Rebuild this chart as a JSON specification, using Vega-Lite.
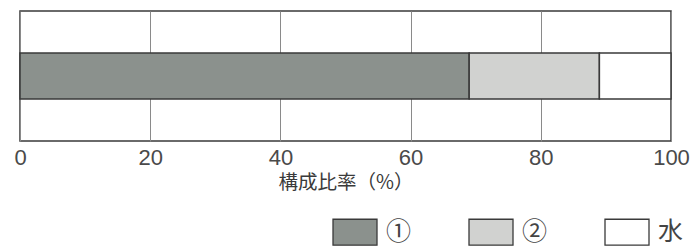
{
  "$schema": "https://vega.github.io/schema/vega-lite/v6.json",
  "width": 651,
  "height": 130,
  "autosize": "none",
  "padding": {"left": 20, "top": 11, "right": 24, "bottom": 107},
  "background": "#ffffff",
  "config": {
    "view": {"stroke": "#3a3a3a", "strokeWidth": 1.5},
    "font": "Noto Sans CJK JP"
  },
  "data": {
    "values": [
      {"cat": "a", "comp": "①", "value": 69, "order": 1},
      {"cat": "a", "comp": "②", "value": 20, "order": 2},
      {"cat": "a", "comp": "水", "value": 11, "order": 3}
    ]
  },
  "mark": {"type": "bar", "stroke": "#3a3a3a", "strokeWidth": 1.5, "size": 46, "opacity": 1},
  "encoding": {
    "y": {"field": "cat", "type": "nominal", "axis": null},
    "x": {
      "field": "value",
      "type": "quantitative",
      "stack": "zero",
      "scale": {"domain": [0, 100], "nice": false},
      "axis": {
        "values": [0, 20, 40, 60, 80, 100],
        "title": "構成比率（%）",
        "titleFont": "Noto Sans CJK JP",
        "titleFontSize": 19.5,
        "titleFontWeight": "normal",
        "titleColor": "#3a3a3a",
        "titlePadding": 5,
        "labelFont": "Liberation Sans",
        "labelFontSize": 22,
        "labelColor": "#4a4a4a",
        "labelPadding": 6,
        "labelFlush": false,
        "ticks": false,
        "domain": false,
        "grid": true,
        "gridColor": "#8a8a8a",
        "gridWidth": 1
      }
    },
    "order": {"field": "order", "type": "quantitative"},
    "color": {
      "field": "comp",
      "type": "nominal",
      "sort": ["①", "②", "水"],
      "scale": {"domain": ["①", "②", "水"], "range": ["#8b918d", "#d1d2d0", "#ffffff"]},
      "legend": {
        "title": null,
        "orient": "none",
        "direction": "horizontal",
        "legendX": 312,
        "legendY": 198,
        "padding": 0,
        "symbolType": "M-1,-0.59H1V0.59H-1Z",
        "symbolSize": 1936,
        "symbolStrokeColor": "#3a3a3a",
        "symbolStrokeWidth": 1.3,
        "symbolOpacity": 1,
        "labelFont": "Noto Sans CJK JP",
        "labelFontSize": 25,
        "labelColor": "#444444",
        "labelOffset": 8,
        "columnPadding": 54
      }
    }
  }
}
